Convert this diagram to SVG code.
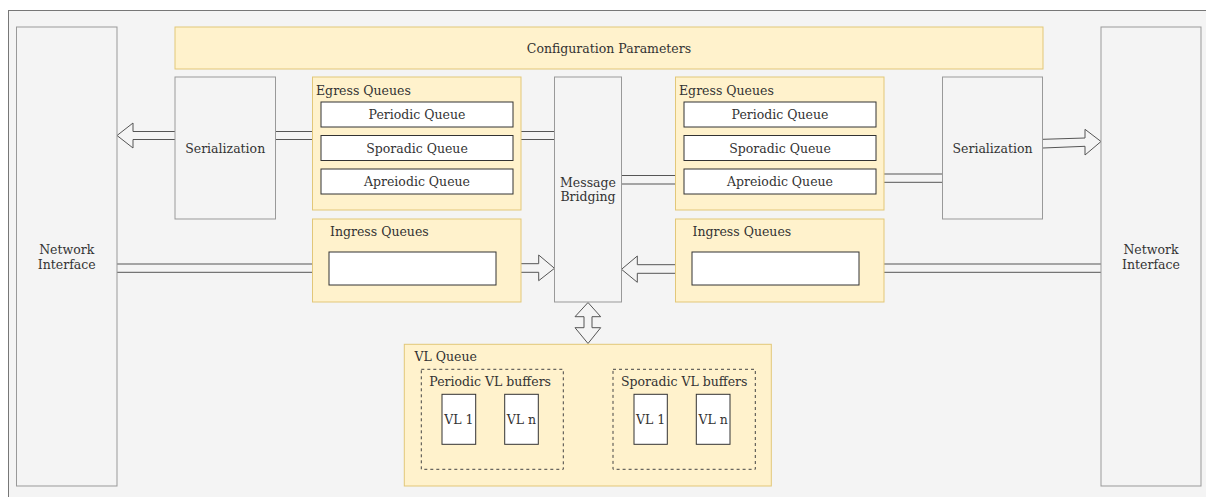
<svg xmlns="http://www.w3.org/2000/svg" width="1206" height="497" viewBox="0 0 1206 497">
<style>
text{font-family:"DejaVu Serif","Liberation Serif",serif;font-size:12.5px;fill:#333}
.c{text-anchor:middle}
.gray{fill:#f4f4f4;stroke:#999;stroke-width:1}
.yel{fill:#fff2cc;stroke:#e2c779;stroke-width:1}
.wht{fill:#fff;stroke:#333;stroke-width:1}
.dash{fill:none;stroke:#444;stroke-width:1;stroke-dasharray:3 3}
.ln{fill:none;stroke:#555;stroke-width:1}
.ar{fill:#f4f4f4;stroke:#555;stroke-width:1}
</style>
<rect x="0" y="0" width="1206" height="497" fill="#fff"/>
<rect x="8.5" y="10.5" width="1210" height="500" fill="#f4f4f4" stroke="#777"/>

<g id="connectors">
  <path class="ln" d="M521 131.5H554.5M521 139.5H554.5M275.5 131.5H312.5M275.5 139.5H312.5"/>
  <path class="ar" d="M175 131.5H133V123L117 135.5L133 148V139.5H175"/>
  <path class="ln" d="M621.5 175.5H675.5M621.5 184H675.5"/>
  <path class="ln" d="M884 174H942.5M884 182.3H942.5"/>
  <path class="ar" d="M1043 139.3L1085 138V129.3L1101 141.5L1085 155V146.3L1043 148"/>
  <path class="ln" d="M117 264H312.5M117 272.3H312.5"/>
  <path class="ar" d="M521 263.7H538.7V255L554.5 268.3L538.7 280.7V272.3H521"/>
  <path class="ar" d="M675.5 264.7H637.3V256L621.5 269.3L637.3 282.3V273.3H675.5"/>
  <path class="ln" d="M884 264H1101M884 272.3H1101"/>
  <path class="ar" d="M588 302.5L600.7 316.7H592V327.7H600.7L588 343.5L575 327.7H584V316.7H575Z"/>
</g>

<g id="ni-left"><rect class="gray" x="16.5" y="27" width="100.5" height="459"/>
  <text class="c" x="66.7" y="253.5">Network</text><text class="c" x="66.7" y="268.5">Interface</text></g>
<g id="ni-right"><rect class="gray" x="1101" y="27" width="100" height="459"/>
  <text class="c" x="1151" y="253.5">Network</text><text class="c" x="1151" y="268.5">Interface</text></g>

<g id="config"><rect class="yel" x="175" y="27" width="868" height="42"/>
  <text class="c" x="609" y="52.5">Configuration Parameters</text></g>

<g id="ser-left"><rect class="gray" x="175" y="77" width="100.5" height="142"/>
  <text class="c" x="225.2" y="152.5">Serialization</text></g>
<g id="ser-right"><rect class="gray" x="942.5" y="77" width="100" height="142"/>
  <text class="c" x="992.5" y="152.5">Serialization</text></g>

<g id="egress-left"><rect class="yel" x="312.5" y="77" width="208.5" height="133"/>
  <text x="316" y="94.5">Egress Queues</text>
  <rect class="wht" x="321" y="102" width="192" height="25"/><text class="c" x="417" y="119">Periodic Queue</text>
  <rect class="wht" x="321" y="135.5" width="192" height="25"/><text class="c" x="417" y="152.5">Sporadic Queue</text>
  <rect class="wht" x="321" y="169" width="192" height="25"/><text class="c" x="417" y="186">Apreiodic Queue</text></g>

<g id="egress-right"><rect class="yel" x="675.5" y="77" width="208.5" height="133"/>
  <text x="679" y="94.5">Egress Queues</text>
  <rect class="wht" x="684" y="102" width="192" height="25"/><text class="c" x="780" y="119">Periodic Queue</text>
  <rect class="wht" x="684" y="135.5" width="192" height="25"/><text class="c" x="780" y="152.5">Sporadic Queue</text>
  <rect class="wht" x="684" y="169" width="192" height="25"/><text class="c" x="780" y="186">Apreiodic Queue</text></g>

<g id="ingress-left"><rect class="yel" x="312.5" y="219" width="208.5" height="83"/>
  <text x="330" y="236">Ingress Queues</text>
  <rect class="wht" x="329" y="252" width="167" height="33"/></g>
<g id="ingress-right"><rect class="yel" x="675.5" y="219" width="208.5" height="83"/>
  <text x="692.5" y="236">Ingress Queues</text>
  <rect class="wht" x="692" y="252" width="167" height="33"/></g>

<g id="bridging"><rect class="gray" x="554.5" y="77" width="67" height="225"/>
  <text class="c" x="588" y="187">Message</text><text class="c" x="588" y="201">Bridging</text></g>

<g id="vl-queue"><rect class="yel" x="404.3" y="344.3" width="367" height="141.7"/>
  <text x="414.5" y="361">VL Queue</text>
  <rect class="dash" x="421.3" y="369.3" width="142" height="100"/>
  <text x="429.3" y="386">Periodic VL buffers</text>
  <rect class="wht" x="442" y="394.3" width="33.7" height="50"/><text class="c" x="458.8" y="423.5">VL 1</text>
  <rect class="wht" x="504.7" y="394.3" width="33.6" height="50"/><text class="c" x="521.5" y="423.5">VL n</text>
  <rect class="dash" x="613" y="369.3" width="142.3" height="100"/>
  <text x="621" y="386">Sporadic VL buffers</text>
  <rect class="wht" x="634" y="394.3" width="33.3" height="50"/><text class="c" x="650.6" y="423.5">VL 1</text>
  <rect class="wht" x="696.3" y="394.3" width="33.7" height="50"/><text class="c" x="713.1" y="423.5">VL n</text></g>
</svg>
